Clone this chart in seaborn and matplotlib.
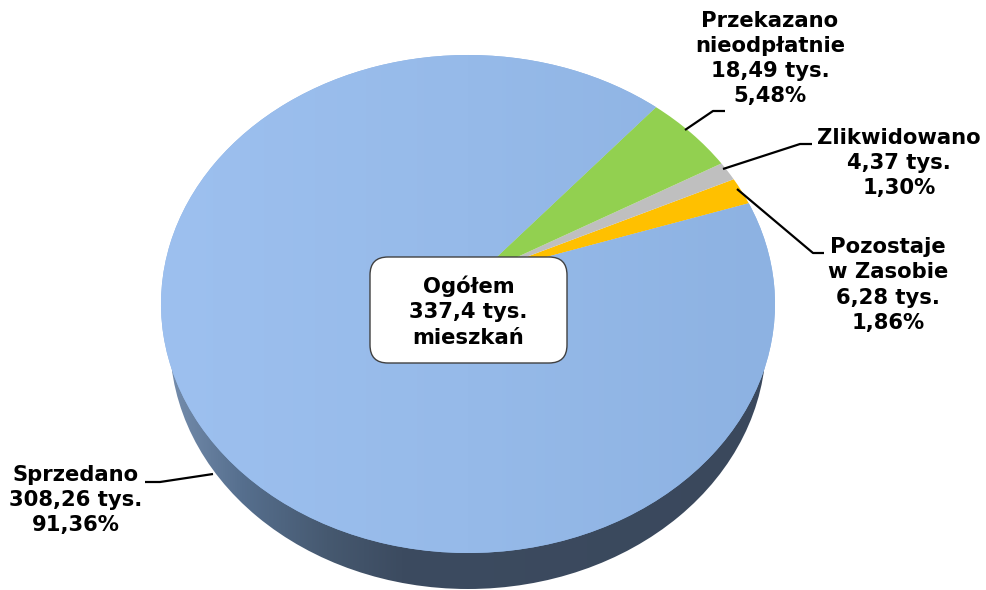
import numpy as np
import matplotlib
matplotlib.use('Agg')
import matplotlib.pyplot as plt
import seaborn as sns
from matplotlib.colors import LinearSegmentedColormap
from matplotlib.patches import Ellipse, FancyBboxPatch
from matplotlib.transforms import Affine2D, Transform

# Data
categories = ['Sprzedano', 'Pozostaje\nw Zasobie', 'Zlikwidowano', 'Przekazano\nnieodpłatnie']
values = [308.26, 6.28, 4.37, 18.49]
value_labels = ['308,26 tys.', '6,28 tys.', '4,37 tys.', '18,49 tys.']
percent_labels = ['91,36%', '1,86%', '1,30%', '5,48%']
colors = ['#8FB4E3', '#FFC000', '#BFBFBF', '#92D050']
center_label = 'Ogółem\n337,4 tys.\nmieszkań'

sns.set_theme(style='white')
plt.rcParams['font.family'] = ['DejaVu Sans']

# pie geometry in pixels
cx, cy = 468, 304
rx, ry = 307, 249
shift_x, shift_y = 0.03, 0.115


class Tilt(Transform):
    # perspective of the pie disc: the rim stays a circle, the apex moves
    input_dims = output_dims = 2
    is_affine = False

    def transform_non_affine(self, values):
        v = np.asarray(values, dtype=float)
        x, y = v[:, 0], v[:, 1]
        d = 1 + shift_y * y
        x, y = x * np.sqrt(1 - shift_y ** 2) / d, (y + shift_y) / d
        d = 1 + shift_x * x
        return np.column_stack([(x + shift_x) / d, y * np.sqrt(1 - shift_x ** 2) / d])


fig = plt.figure(figsize=(9.87, 5.9), dpi=100)
ax = fig.add_axes([0, 0, 1, 1])

wedges, _ = ax.pie(values, colors=colors, startangle=49.5, counterclock=True, radius=1,
                   wedgeprops={'linewidth': 0})
ax.set_aspect('auto')

to_px = Tilt() + Affine2D().scale(rx, -ry).translate(cx, cy) + ax.transData
for w in wedges:
    w.set_transform(to_px)
    w.set_zorder(3)

# side wall: a smaller ellipse lower down, left-right gradient
wall = Ellipse((468, 342), 596, 494, facecolor='none', edgecolor='none', transform=ax.transData)
ax.add_patch(wall)
wall_cmap = LinearSegmentedColormap.from_list('wall', [(0, '#7890B0'), (0.13, '#566F8E'), (0.27, '#465970'),
                                                       (0.39, '#3C4B60'), (1, '#3A485C')])
im = ax.imshow(np.linspace(0, 1, 256).reshape(1, -1), cmap=wall_cmap, extent=(cx - rx, cx + rx, 590, cy),
               aspect='auto', zorder=1)
im.set_clip_path(wall)

# soft shading of the big slice
face_cmap = LinearSegmentedColormap.from_list('face', ['#9DC0EF', '#96BAE9', '#8DB2E2'])
im2 = ax.imshow(np.linspace(0, 1, 256).reshape(1, -1), cmap=face_cmap, extent=(cx - rx, cx + rx, cy + ry, cy - ry),
                aspect='auto', zorder=3.5)
im2.set_clip_path(wedges[0])

ax.set_xlim(0, 987)
ax.set_ylim(590, 0)
ax.axis('off')

# leader lines
leaders = [
    ([213, 160, 145], [474, 482, 482]),
    ([737, 813, 824], [189, 253, 253]),
    ([723, 800, 812], [169, 144, 144]),
    ([685, 713, 725], [130, 111, 111]),
]
for lx, ly in leaders:
    ax.plot(lx, ly, color='black', lw=1.6, zorder=5, solid_capstyle='butt')

# slice labels
label_pos = [(76, 500), (888, 285), (899, 163), (770, 58.5)]
for cat, val, pct, (tx, ty) in zip(categories, value_labels, percent_labels, label_pos):
    ax.text(tx, ty, f'{cat}\n{val}\n{pct}', ha='center', va='center', fontsize=15.2, fontweight='bold',
            color='black', linespacing=1.33, zorder=6)

# center box
box = FancyBboxPatch((370 + 18, 257 + 18), 197 - 36, 106 - 36, boxstyle='round,pad=18,rounding_size=18',
                     facecolor='white', edgecolor='#404040', lw=1, zorder=5)
ax.add_patch(box)
ax.text(468.5, 311.5, center_label, ha='center', va='center', fontsize=15.2, fontweight='bold',
        color='black', linespacing=1.33, zorder=6)

fig.savefig('out.png', dpi=100)
